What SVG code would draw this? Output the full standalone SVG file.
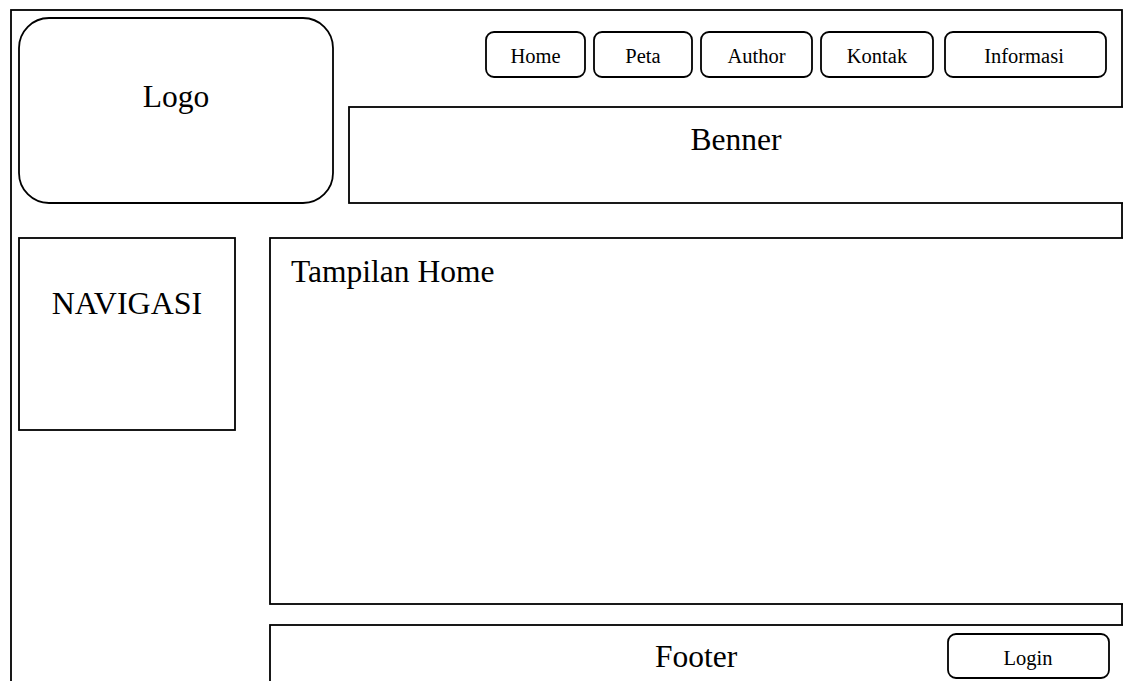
<svg xmlns="http://www.w3.org/2000/svg" width="1123" height="681" viewBox="0 0 1123 681">
  <style>
    .box { fill: #ffffff; stroke: #000000; stroke-width: 1.8; }
    .big { font-family: "Liberation Serif", "Times New Roman", serif; font-size: 31.5px; fill: #000000; }
    .small { font-family: "Liberation Serif", "Times New Roman", serif; font-size: 20.5px; fill: #000000; }
    .mid { text-anchor: middle; }
  </style>
  <rect width="1123" height="681" fill="#ffffff"/>

  <!-- page frame -->
  <g id="page">
    <rect class="box" x="11" y="10" width="1111" height="690"/>
  </g>

  <!-- header -->
  <g id="logo">
    <rect class="box" x="19" y="18" width="314" height="185" rx="30" ry="30"/>
    <text class="big mid" x="176" y="107">Logo</text>
  </g>
  <g id="benner">
    <rect class="box" x="349" y="107" width="790" height="96"/>
    <text class="big mid" x="736" y="150">Benner</text>
  </g>

  <!-- menu buttons -->
  <g id="btn-home">
    <rect class="box" x="486" y="32" width="99" height="45" rx="8" ry="8"/>
    <text class="small mid" x="535.5" y="63">Home</text>
  </g>
  <g id="btn-peta">
    <rect class="box" x="594" y="32" width="98" height="45" rx="8" ry="8"/>
    <text class="small mid" x="643" y="63">Peta</text>
  </g>
  <g id="btn-author">
    <rect class="box" x="701" y="32" width="111" height="45" rx="8" ry="8"/>
    <text class="small mid" x="756.5" y="63">Author</text>
  </g>
  <g id="btn-kontak">
    <rect class="box" x="821" y="32" width="112" height="45" rx="8" ry="8"/>
    <text class="small mid" x="877" y="63">Kontak</text>
  </g>
  <g id="btn-informasi">
    <rect class="box" x="945" y="32" width="161" height="45" rx="8" ry="8"/>
    <text class="small mid" x="1024" y="63">Informasi</text>
  </g>

  <!-- body -->
  <g id="navigasi">
    <rect class="box" x="19" y="238" width="216" height="192"/>
    <text class="big mid" x="127" y="314" style="font-size:32px">NAVIGASI</text>
  </g>
  <g id="content">
    <rect class="box" x="270" y="238" width="870" height="366"/>
    <text class="big" x="291" y="282">Tampilan Home</text>
  </g>

  <!-- footer -->
  <g id="footer">
    <rect class="box" x="270" y="625" width="870" height="80"/>
    <text class="big mid" x="696" y="667">Footer</text>
  </g>
  <g id="btn-login">
    <rect class="box" x="948" y="634" width="161" height="44" rx="8" ry="8"/>
    <text class="small mid" x="1028" y="665">Login</text>
  </g>

  <g id="connectors"></g>
</svg>
